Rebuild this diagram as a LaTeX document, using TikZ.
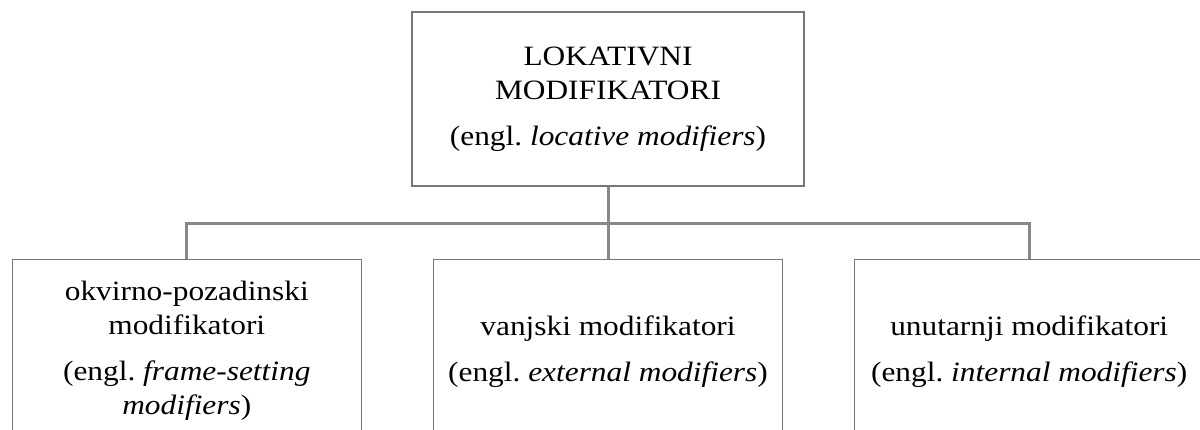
\documentclass[tikz,border=0pt]{standalone}
\usepackage{fontspec}
\setmainfont{Liberation Serif}[FakeStretch=1.12]
\usetikzlibrary{positioning}
\definecolor{boxline}{HTML}{777777}
\definecolor{linkline}{HTML}{888888}

\begin{document}
\begin{tikzpicture}[node distance=36pt and 35.5pt,
  box/.style={rectangle, draw=boxline, line width=0.6pt, fill=white, align=center,
    font=\fontsize{14pt}{17pt}\selectfont\frenchspacing},
  link/.style={draw=linkline, line width=1.5pt}]
\useasboundingbox (0,0) rectangle (600pt,-214.5pt);
\clip (0,0) rectangle (600pt,-214.5pt);
\node[box, minimum width=196pt, minimum height=87pt] (lok) at (304pt,-49.5pt)
  {LOKATIVNI\\ MODIFIKATORI\\[6pt] (engl. \textit{locative modifiers})};
\node[box, minimum width=174.5pt, minimum height=92pt, below=of lok] (vanj)
  {vanjski modifikatori\\[6pt] (engl. \textit{external modifiers})};
\node[box, minimum width=174.5pt, minimum height=92pt, left=of vanj] (okv)
  {okvirno-pozadinski\\ modifikatori\\[6pt] (engl. \textit{frame-setting}\\ \textit{modifiers})};
\node[box, minimum width=174.5pt, minimum height=92pt, right=of vanj] (unut)
  {unutarnji modifikatori\\[6pt] (engl. \textit{internal modifiers})};
\coordinate[below=18.5pt of lok] (bus);
\draw[link] (lok) -- (vanj);
\draw[link] (okv.north) |- (bus) -| (unut.north);
\end{tikzpicture}
\end{document}
